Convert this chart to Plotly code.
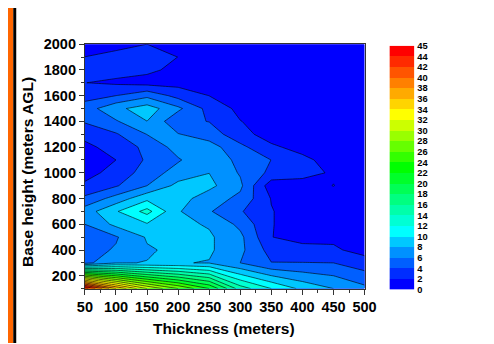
import plotly.graph_objects as go

# ---- data ----
thickness = [50, 100, 150, 200, 250, 300, 350, 400, 450, 500]
base_height = [100, 300, 400, 500, 600, 700, 800, 900, 1000, 1100, 1200, 1300,
               1400, 1500, 1600, 1700, 1800, 1900, 2000]
freq = [
    [45.0, 36.0, 30.0, 26.0, 22.0, 15.0, 12.0, 9.5, 8.0, 6.5],   # 100
    [5.3, 7.9, 8.05, 8.1, 7.9, 6.0, 4.05, 4.05, 4.0, 2.9],       # 300
    [5.2, 6.2, 7.8, 8.4, 8.3, 6.5, 3.2, 2.8, 2.3, 1.3],          # 400
    [5.0, 5.8, 8.2, 8.4, 8.3, 6.5, 2.05, 1.2, 1.6, 1.0],         # 500
    [6.0, 8.5, 9.8, 8.5, 7.8, 5.5, 2.1, 1.0, 0.7, 0.5],          # 600
    [7.0, 9.8, 12.7, 8.2, 6.2, 4.2, 2.1, 1.0, 0.7, 0.5],         # 700
    [4.5, 6.8, 9.5, 8.8, 7.0, 5.5, 1.9, 1.0, 0.8, 0.5],          # 800
    [2.3, 3.8, 6.0, 8.6, 8.5, 6.42, 0.8, 1.0, 2.05, 0.5],        # 900
    [1.4, 2.6, 5.0, 6.8, 7.98, 5.8, 3.5, 2.8, 1.7, 0.5],         # 1000
    [0.6, 2.0, 4.3, 5.8, 7.5, 5.4, 3.98, 2.6, 1.0, 0.5],         # 1100
    [1.5, 2.8, 4.5, 6.8, 6.9, 4.5, 2.4, 1.2, 0.6, 0.4],          # 1200
    [2.6, 3.8, 6.05, 6.1, 5.0, 2.8, 1.0, 0.7, 0.5, 0.4],         # 1300
    [4.2, 5.8, 7.98, 4.44, 3.95, 2.05, 1.2, 0.8, 0.6, 0.4],      # 1400
    [5.0, 7.5, 9.0, 6.44, 3.3, 1.5, 1.0, 0.8, 0.6, 0.4],         # 1500
    [3.2, 4.0, 5.5, 3.3, 1.98, 1.2, 0.9, 0.7, 0.5, 0.4],         # 1600
    [2.02, 1.7, 1.26, 1.3, 1.1, 0.9, 0.7, 0.5, 0.4, 0.3],        # 1700
    [2.5, 2.6, 2.4, 1.5, 1.2, 1.0, 0.8, 0.6, 0.4, 0.3],          # 1800
    [2.02, 2.5, 3.0, 1.98, 1.2, 0.9, 0.7, 0.5, 0.4, 0.3],        # 1900
    [1.0, 1.5, 2.0, 1.2, 0.8, 0.6, 0.5, 0.4, 0.3, 0.3],          # 2000
]
levels = [0, 2, 4, 6, 8, 10, 12, 14, 16, 18, 20, 22, 24, 26, 28, 30, 32, 34, 36, 38, 40, 42, 44, 45]
band_colors = [
    "#0000FF", "#002DFF", "#005FFF", "#0091FF", "#00C8FF", "#00FFFF",
    "#00FFD4", "#00FFAA", "#00FF80", "#00FF55", "#00FF2A", "#00FF00",
    "#33FF00", "#66FF00", "#99FF00", "#CCFF00", "#FFFF00",
    "#FFD400", "#FFAA00", "#FF8000", "#FF5500", "#FF2A00", "#FF0000",
]
x_ticks = [50, 100, 150, 200, 250, 300, 350, 400, 450, 500]
y_ticks = [200, 400, 600, 800, 1000, 1200, 1400, 1600, 1800, 2000]

# ---- stepped colorscale ----
zmax = levels[-2] + 2
n = len(band_colors)
cs = []
for i, c in enumerate(band_colors):
    a = levels[i] / zmax
    b = (levels[i] + 2) / zmax if i < n - 1 else 1.0
    cs.append([a, c])
    cs.append([b, c])

# the captured page shows (body margin + figure) scaled by ~0.965
S, OFF = 0.965, 8
W, H = 504, 348


def px(x):
    return (x / S - OFF) / W


def py(y):
    return 1 - (y / S - OFF) / H


def fs(v):
    return v / S


fig = go.Figure()
fig.add_trace(go.Contour(
    x=thickness, y=base_height, z=freq,
    zmin=0, zmax=zmax, colorscale=cs, showscale=False,
    contours=dict(start=levels[0], end=levels[-2], size=2, coloring="fill"),
    line=dict(color="black", width=0.6, smoothing=0),
    xaxis="x", yaxis="y", hoverinfo="skip",
))

# custom colour bar drawn as a heatmap with equal band heights
fig.add_trace(go.Heatmap(
    z=[[i] for i in range(n)], x=[0], y=list(range(n)),
    colorscale=[[i / (n - 1), c] for i, c in enumerate(band_colors)],
    zmin=0, zmax=n - 1, showscale=False, xaxis="x2", yaxis="y2",
    hoverinfo="skip",
))

tick_font = dict(family="Liberation Sans, Arial, sans-serif", size=fs(14), color="black", weight="bold")
fig.update_layout(
    width=W, height=H, margin=dict(l=0, r=0, t=0, b=0),
    paper_bgcolor="white", plot_bgcolor="white", showlegend=False,
    xaxis=dict(domain=[px(85), px(366)], range=[50, 500], tickvals=x_ticks,
               ticks="outside", ticklen=5, tickwidth=1, tickcolor="#333",
               minor=dict(ticks="outside", ticklen=3, tickcolor="#333", dtick=25, tick0=25),
               showline=True, linecolor="#333", linewidth=1, mirror=True,
               showgrid=False, zeroline=False, tickfont=tick_font, anchor="y"),
    yaxis=dict(domain=[py(289), py(44)], range=[100, 2000], tickvals=y_ticks,
               ticks="outside", ticklen=5, tickwidth=1, tickcolor="#333",
               minor=dict(ticks="outside", ticklen=3, tickcolor="#333", dtick=100, tick0=100),
               showline=True, linecolor="#333", linewidth=1, mirror=True,
               showgrid=False, zeroline=False, tickfont=tick_font, anchor="x"),
    xaxis2=dict(domain=[px(391), px(416)], range=[-0.5, 0.5], visible=False, anchor="y2"),
    yaxis2=dict(domain=[py(290), py(45.5)], range=[-0.5, n - 0.5], anchor="x2",
                side="right", tickvals=[i - 0.5 for i in range(n + 1)],
                ticktext=[str(v) for v in levels], ticks="", showgrid=False,
                zeroline=False, showline=False, ticklabelstandoff=2,
                tickfont=dict(family="Liberation Sans, Arial, sans-serif", size=fs(9),
                              color="black", weight="bold")),
)

# frame decorations (orange strip, black border)
fig.add_shape(type="rect", xref="paper", yref="paper", x0=0, x1=px(13), y0=0, y1=1,
              fillcolor="#FF6600", line_width=0, layer="above")
fig.add_shape(type="rect", xref="paper", yref="paper", x0=px(13), x1=px(16), y0=0, y1=1,
              fillcolor="black", line_width=0, layer="above")

title_font = dict(family="Liberation Sans, Arial, sans-serif", size=fs(15), color="black", weight="bold")
fig.add_annotation(text="Thickness (meters)", xref="paper", yref="paper",
                   x=px(225), y=py(329), showarrow=False, font=title_font,
                   xanchor="center", yanchor="middle")
fig.add_annotation(text="Base height (meters AGL)", xref="paper", yref="paper",
                   x=px(28), y=py(172), showarrow=False, font=title_font, textangle=-90,
                   xanchor="center", yanchor="middle")

fig.write_html("out.html")
